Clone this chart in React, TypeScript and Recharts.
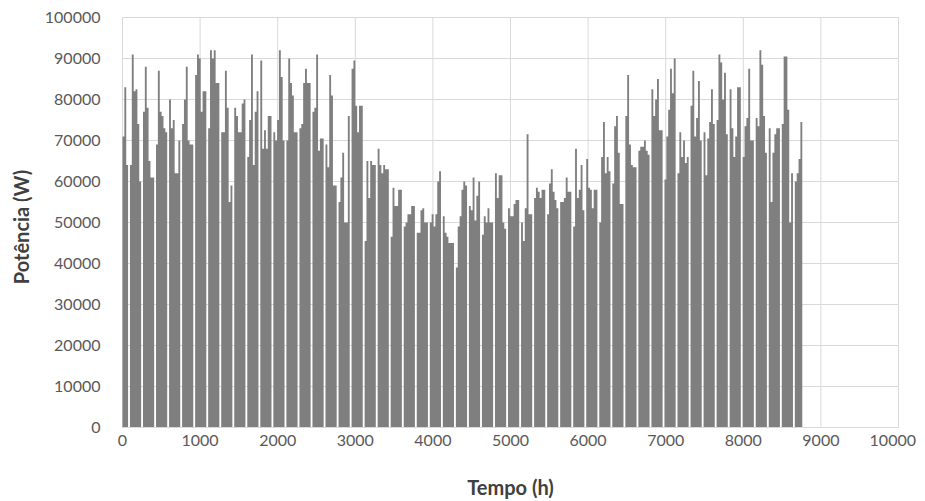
import React from 'react';
import { AreaChart, Area, XAxis, YAxis, CartesianGrid } from 'recharts';

// Daily peak power (kW), one value per day; 0 = day off (weekly gap)
const daysJanMar: number[] = [
  71, 83, 64, 0,
  64, 91, 82, 82.5, 74, 60, 0,
  77, 88, 78, 65, 61, 61, 0,
  69, 87, 77, 76, 73, 72, 0,
  80, 73, 75, 62, 62, 70, 0,
  74, 80, 88, 70, 69, 69, 0,
  86, 91, 90, 77, 82, 82, 0,
  73, 92, 90, 92, 84, 84, 0,
  72, 72, 87, 78, 55, 59, 0,
  78, 76, 72, 72, 79, 80, 0,
  66, 75, 91, 64, 77, 82, 0,
  89.5, 68, 72.5, 68, 76, 76, 0,
  72, 70, 75, 92, 85.5, 70, 0,
];
const daysAprJun: number[] = [
  70, 90, 84, 81, 72, 72, 0,
  73, 74, 84, 87.5, 84, 84, 0,
  77, 78, 91, 67.5, 70.5, 70.5, 0,
  69, 63.5, 86, 81, 59, 59, 0,
  55, 61, 67, 50, 50, 76, 0,
  87.5, 89.5, 78.5, 72, 78.5, 78.5, 0,
  45.5, 65, 56, 65, 64, 64, 0,
  68, 64, 62, 64, 63, 63, 0,
  46.5, 58.5, 54, 54, 58, 58, 0,
  49, 50, 52, 52, 54, 54, 0,
  47.5, 47.5, 53, 53.5, 50, 50, 0,
  50, 52, 49, 52, 60, 62.5, 0,
  51.5, 47.5, 46.5, 45, 45, 45, 0,
];
const daysJulSep: number[] = [
  39, 49, 51.5, 58, 60, 59, 0,
  54, 53, 61, 50.5, 56.5, 60, 0,
  47, 51.5, 50, 53.5, 50, 50, 0,
  62, 56, 61.5, 61.5, 50, 48.5, 0,
  53.5, 51.5, 51.5, 54.5, 55.5, 55.5, 0,
  50, 45.5, 53.5, 71.5, 52, 52, 0,
  56, 58.5, 57.5, 56, 58, 58, 0,
  52, 59.5, 63, 57.5, 55.5, 53.5, 0,
  55, 55, 56, 61, 57.5, 57.5, 0,
  49, 68, 56, 58, 64, 53, 0,
  65.5, 58.5, 58, 53.5, 58, 58, 0,
  50, 66, 74.5, 62, 66, 62.5, 0,
  59.5, 73.5, 76, 67, 54.5, 54.5, 0,
];
const daysOctDec: number[] = [
  76, 86, 69, 64, 63.5, 63.5, 0,
  67.5, 68.5, 68.5, 70, 67.5, 66.5, 0,
  82.5, 76, 80, 85, 72.5, 72.5, 0,
  60.5, 71, 77.5, 87.5, 81.5, 90, 0,
  62, 72, 66, 70, 64.5, 66, 0,
  78.5, 87, 71, 75.5, 84.5, 70, 0,
  72, 61.5, 70.5, 74.5, 82.5, 74, 0,
  75, 91, 89, 80, 86.5, 71.5, 0,
  82.5, 73, 66, 71, 83, 83, 0,
  66, 73.5, 75.5, 87.5, 70, 70, 0,
  75.5, 73.5, 92, 88.5, 76, 67, 0,
  73, 55, 67, 71.5, 73, 73, 0,
  74, 90.5, 90.5, 77.5, 50, 62, 0,
  60, 62, 65.5, 74.5,
];

const xTicks = [0, 1000, 2000, 3000, 4000, 5000, 6000, 7000, 8000, 9000, 10000];
const yTicks = [0, 10000, 20000, 30000, 40000, 50000, 60000, 70000, 80000, 90000, 100000];
const xTitle = 'Tempo (h)';
const yTitle = 'Potência (W)';
const HOURS_PER_DAY = 24;
const YEAR_HOURS = 8760;

const dailyKW = [...daysJanMar, ...daysAprJun, ...daysJulSep, ...daysOctDec];
const data = dailyKW.map((kw, d) => ({ h: d * HOURS_PER_DAY, p: kw * 1000 }));
data.push({ h: YEAR_HOURS, p: 0 });

const FONT = 'Lato, "Open Sans", sans-serif';
const CHART_W = 909;
const CHART_H = 493;

const XTick = (props: any) => {
  const { x, y, payload } = props;
  const isLast = payload.value === xTicks[xTicks.length - 1];
  return (
    <text
      x={isLast ? CHART_W - 1 : x}
      y={y}
      dy="0.71em"
      textAnchor={isLast ? 'end' : 'middle'}
      fill="#595959"
      fontSize={16}
      fontFamily={FONT}
    >
      {payload.value}
    </text>
  );
};

const XTitle = (props: any) => {
  const vb = props.viewBox || {};
  return (
    <text
      x={vb.x + vb.width / 2}
      y={vb.y + 67.5}
      textAnchor="middle"
      fontFamily={FONT}
      fontWeight={700}
      fontSize={20}
      fill="#404040"
    >
      {xTitle}
    </text>
  );
};

const YTitle = (props: any) => {
  const vb = props.viewBox || {};
  const cx = vb.x + 21;
  const cy = vb.y + vb.height / 2 + 4.5;
  return (
    <text
      x={cx}
      y={cy}
      textAnchor="middle"
      transform={`rotate(-90, ${cx}, ${cy})`}
      fontFamily={FONT}
      fontWeight={700}
      fontSize={20}
      fill="#404040"
    >
      {yTitle}
    </text>
  );
};

export default function App() {
  return (
    <div style={{ width: CHART_W, height: CHART_H }}>
      <AreaChart
        width={CHART_W}
        height={CHART_H}
        data={data}
        margin={{ top: 9.5, right: 18.5, bottom: 0, left: 0 }}
      >
        <CartesianGrid stroke="#d9d9d9" strokeWidth={1} />
        <XAxis
          dataKey="h"
          type="number"
          domain={[0, 10000]}
          ticks={xTicks}
          interval={0}
          height={73.5}
          tickSize={0}
          tickMargin={7}
          axisLine={{ stroke: '#d9d9d9' }}
          tickLine={false}
          tick={XTick}
          label={XTitle}
        />
        <YAxis
          type="number"
          domain={[0, 100000]}
          ticks={yTicks}
          interval={0}
          width={114.5}
          tickSize={0}
          tickMargin={22}
          axisLine={false}
          tickLine={false}
          tick={{ fill: '#595959', fontSize: 16, fontFamily: FONT }}
          label={YTitle}
        />
        <Area
          type="stepAfter"
          dataKey="p"
          fill="#7f7f7f"
          fillOpacity={1}
          stroke="none"
          isAnimationActive={false}
        />
      </AreaChart>
    </div>
  );
}
